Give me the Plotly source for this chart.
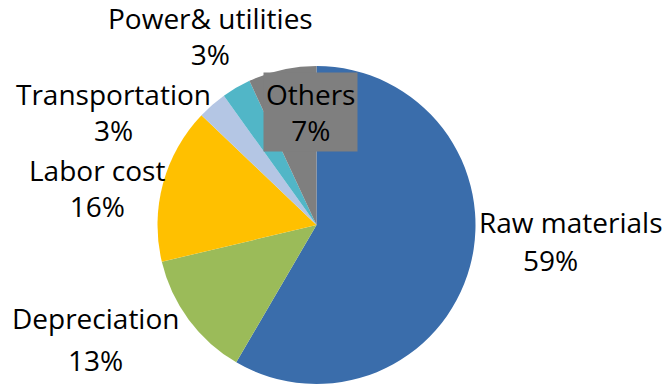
import plotly.graph_objects as go

# Cost structure shares (percent), clockwise from 12 o'clock
categories = ["Raw materials", "Depreciation", "Labor cost", "Transportation",
              "Power& utilities", "Others"]
shares = [59, 13, 16, 3, 3, 7]
colors = ["#3A6DAB", "#9BBB59", "#FFC000", "#B4C6E4", "#51B6C7", "#7F7F7F"]

W, H = 665, 386
FONT = "Open Sans"
FS = 28

fig = go.Figure(go.Pie(
    labels=categories,
    values=shares,
    sort=False,
    direction="clockwise",
    rotation=0,
    marker=dict(colors=colors, line=dict(width=0)),
    textinfo="none",
    hoverinfo="label+value",
    domain=dict(x=[157 / W, 476 / W], y=[1 - 384 / H, 1 - 66 / H]),
    showlegend=False,
))

# Labels stacked on one annotation (pixel centre of the block)
stacked = {
    "Labor cost": (97, 188),
    "Transportation": (113, 112),
    "Power& utilities": (210, 36),
    "Others": (310, 112),
}
# Labels whose two lines sit apart (pixel centres of each line)
split = {
    "Raw materials": ((570, 222), (550, 260)),
    "Depreciation": ((95, 318), (95, 360)),
}

def px(x, y):
    return x / W, 1 - y / H

font = dict(family=FONT, size=FS, color="#000000")

for name, val in zip(categories, shares):
    pct = f"{val}%"
    if name in stacked:
        ax, ay = px(*stacked[name])
        boxed = name == "Others"
        fig.add_annotation(
            x=ax, y=ay, xref="paper", yref="paper",
            text=f"{name}<br>{pct}", showarrow=False, align="center",
            xanchor="center", yanchor="middle", font=font,
            bgcolor="#7F7F7F" if boxed else "rgba(0,0,0,0)",
            borderpad=2 if boxed else 0,
        )
    else:
        for (x, y), txt in zip(split[name], (name, pct)):
            ax, ay = px(x, y)
            fig.add_annotation(
                x=ax, y=ay, xref="paper", yref="paper",
                text=txt, showarrow=False,
                xanchor="center", yanchor="middle", font=font, borderpad=0,
            )

fig.update_layout(
    width=W, height=H,
    margin=dict(l=0, r=0, t=0, b=0),
    paper_bgcolor="white",
    plot_bgcolor="white",
)

fig.write_html("out.html")
